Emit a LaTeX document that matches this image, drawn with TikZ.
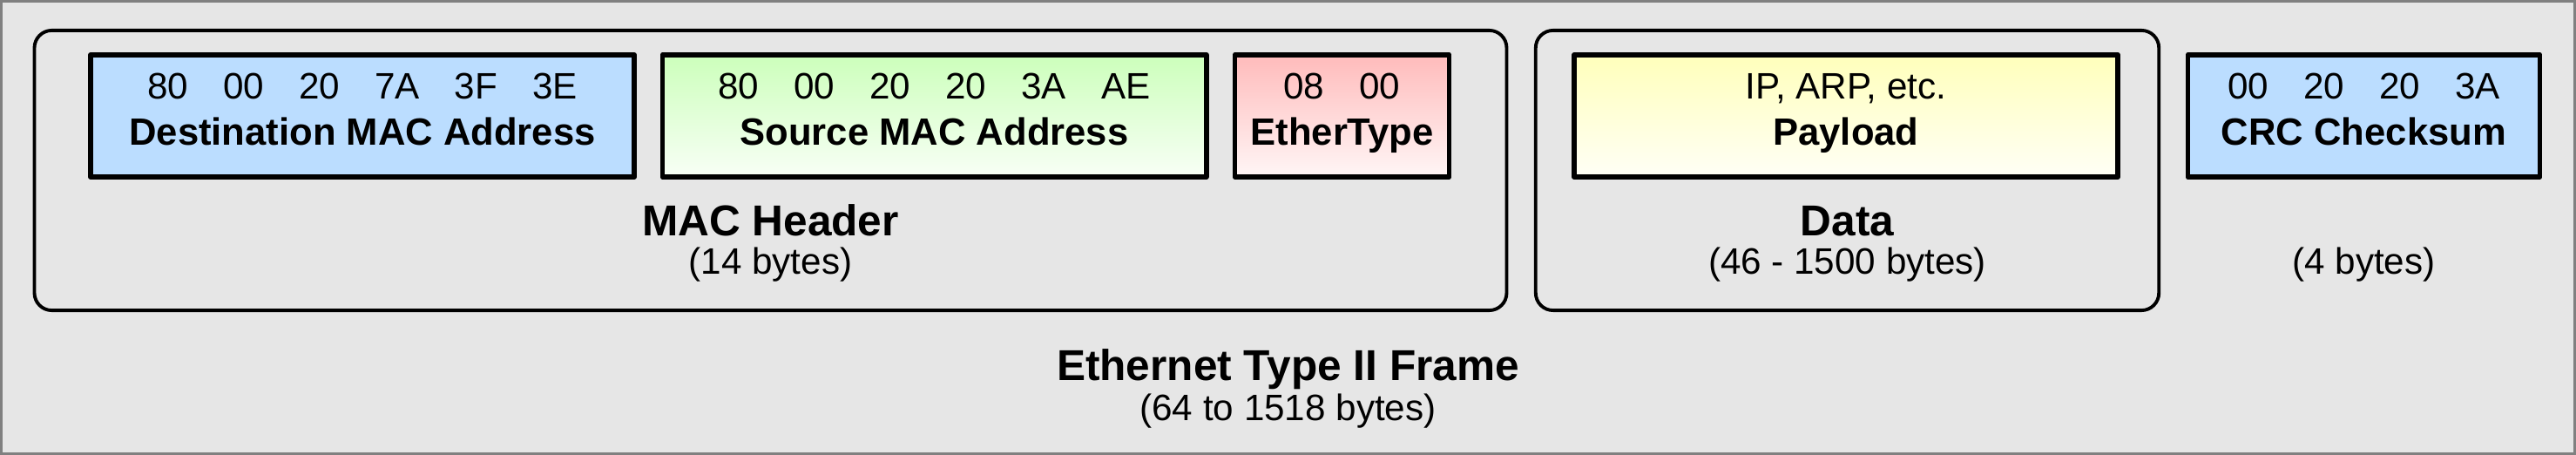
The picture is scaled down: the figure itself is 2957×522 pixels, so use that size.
\documentclass[tikz,border=0pt]{standalone}
\usepackage{fontspec}
\setmainfont{Liberation Sans}
\definecolor{framefill}{HTML}{E6E6E6}
\definecolor{framegray}{HTML}{808080}
\definecolor{macblue}{HTML}{BBDDFF}
\definecolor{srcgreen}{HTML}{CCFFBB}
\definecolor{srcwhite}{HTML}{F8FFF6}
\definecolor{typered}{HTML}{FFBBBB}
\definecolor{typewhite}{HTML}{FFF6F6}
\definecolor{loadyellow}{HTML}{FFFFBB}
\definecolor{loadwhite}{HTML}{FFFFF6}
\newcommand{\bytegap}{\hspace{0.95em}}
\tikzset{
  frame/.style={draw=framegray, line width=0.9pt, fill=framefill, inner sep=0pt},
  group/.style={draw=black, line width=1.1pt, rounded corners=0.2cm, inner sep=0pt},
  field/.style={draw=black, line width=1.6pt, line join=round, minimum height=1.40cm, inner sep=0pt},
  hexrow/.style={anchor=base, inner sep=0pt, font=\fontsize{12}{14}\selectfont},
  fname/.style={anchor=base, inner sep=0pt, font=\bfseries\fontsize{12.4}{15}\selectfont},
  biglabel/.style={anchor=base, inner sep=0pt, font=\bfseries\fontsize{14.1}{17}\selectfont},
  sublabel/.style={anchor=base, inner sep=0pt, font=\fontsize{12}{14}\selectfont},
}
\begin{document}
\begin{tikzpicture}[x=0.01cm, y=-0.01cm]
  \useasboundingbox (0,0) rectangle (2957,522);
  % whole frame
  \node[frame, minimum width=29.53cm, minimum height=5.18cm] (frame) at (1478.5,261) {};
  \node[biglabel] (frametitle) at (1478.5,437) {Ethernet Type II Frame};
  \node[sublabel] (framesize) at (1478.5,483) {(64 to 1518 bytes)};
  % groups
  \node[group, minimum width=16.89cm, minimum height=3.21cm] (header) at (884.5,195.5) {};
  \node[group, minimum width=7.15cm, minimum height=3.21cm] (data) at (2120.5,195.5) {};
  \node[biglabel] (headertitle) at (884.5,271) {MAC Header};
  \node[sublabel] (headersize) at (884.5,315) {(14 bytes)};
  \node[biglabel] (datatitle) at (2120.5,271) {Data};
  \node[sublabel] (datasize) at (2120.5,315) {(46 - 1500 bytes)};
  \node[sublabel] (crcsize) at (2713.5,315) {(4 bytes)};
  % fields
  \node[field, fill=macblue, minimum width=6.24cm] (dst) at (416,133) {};
  \node[field, top color=srcgreen, bottom color=srcwhite, minimum width=6.24cm] (src) at (1072.5,133) {};
  \node[field, top color=typered, bottom color=typewhite, minimum width=2.46cm] (type) at (1540.5,133) {};
  \node[field, top color=loadyellow, bottom color=loadwhite, minimum width=6.24cm] (load) at (2119,133) {};
  \node[field, fill=macblue, minimum width=4.04cm] (crc) at (2713.5,133) {};
  % field texts
  \node[hexrow] (dsthex) at (416,114) {80\bytegap 00\bytegap 20\bytegap 7A\bytegap 3F\bytegap 3E};
  \node[fname] (dstname) at (416,167) {Destination MAC Address};
  \node[hexrow] (srchex) at (1072.5,114) {80\bytegap 00\bytegap 20\bytegap 20\bytegap 3A\bytegap AE};
  \node[fname] (srcname) at (1072.5,167) {Source MAC Address};
  \node[hexrow] (typehex) at (1540.5,114) {08\bytegap 00};
  \node[fname] (typename) at (1540.5,167) {EtherType};
  \node[hexrow] (loadhex) at (2119,114) {IP, ARP, etc.};
  \node[fname] (loadname) at (2119,167) {Payload};
  \node[hexrow] (crchex) at (2713.5,114) {00\bytegap 20\bytegap 20\bytegap 3A};
  \node[fname] (crcname) at (2713.5,167) {CRC Checksum};
\end{tikzpicture}
\end{document}
